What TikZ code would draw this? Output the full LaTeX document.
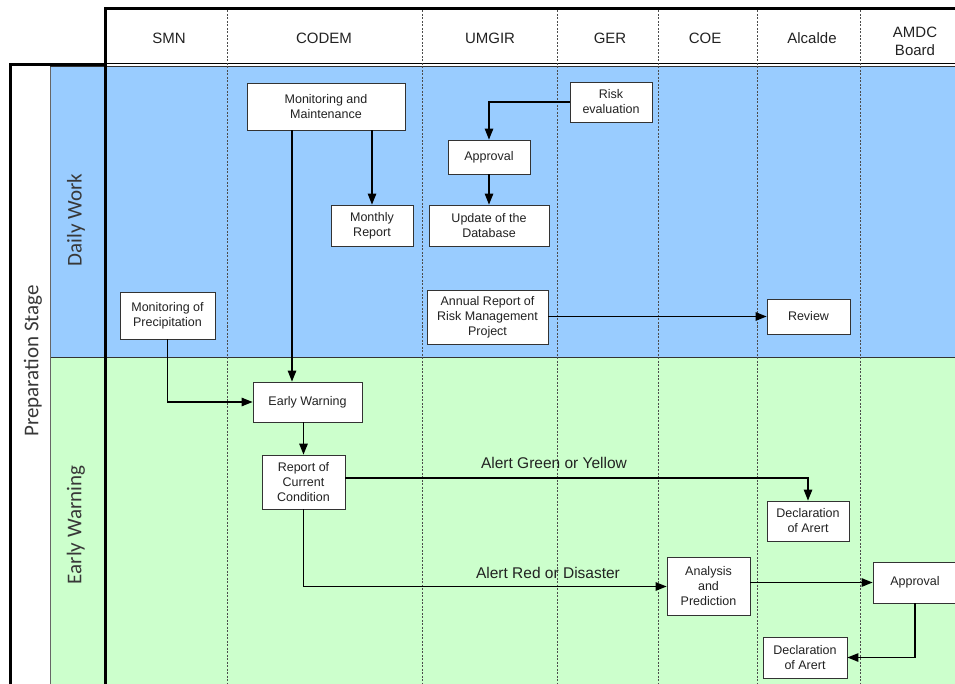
\documentclass[tikz,border=0pt]{standalone}
\usepackage{fontspec}
\setmainfont{Liberation Sans}
\newfontfamily\lanefont{Carlito}
\usetikzlibrary{arrows.meta}

\definecolor{dailyblue}{HTML}{99CCFF}
\definecolor{warngreen}{HTML}{CCFFCC}
\definecolor{inkgray}{HTML}{222222}

\tikzset{
  box/.style={draw=black!80, fill=white, line width=0.8pt, inner sep=0pt,
    align=center, text=inkgray, font=\fontsize{12.5}{15}\selectfont},
  head/.style={text=inkgray, align=center, font=\fontsize{15}{18}\selectfont},
  lanelabel/.style={text=black!78, rotate=90, font=\lanefont\fontsize{21}{24}\selectfont},
  edgelabel/.style={text=inkgray, font=\fontsize{15.5}{18}\selectfont},
  arr/.style={draw=black, line width=1.2pt, -{Triangle[length=11pt,width=8.5pt]}},
  thick frame/.style={draw=black, line width=3pt},
  divider/.style={draw=black!70, line width=0.8pt, dash pattern=on 2pt off 1.5pt},
}

\begin{document}
\begin{tikzpicture}[x=1pt,y=-1pt]
\useasboundingbox (0,0) rectangle (955,684);

% lane backgrounds
\fill[dailyblue] (50,66) rectangle (955,357);
\fill[warngreen] (50,357) rectangle (955,684);
\draw[black!80, line width=0.8pt] (50,357) -- (955,357);
\draw[black!60, line width=0.8pt] (50,66) -- (50,684);

% header and stage frame
\draw[black, line width=1pt] (105,64) -- (955,64);
\draw[black!80, line width=0.8pt] (50,66.5) -- (955,66.5);
\draw[thick frame] (105,684) -- (105,9) -- (955,9);
\draw[thick frame] (10,684) -- (10,65) -- (105,65);

% swimlane dividers
\foreach \xx in {227,422,557,658,757,860}
  \draw[divider] (\xx,10.5) -- (\xx,684);

% column headings
\node[head] (hSMN)   at (169,38) {SMN};
\node[head] (hCODEM) at (324,38) {CODEM};
\node[head] (hUMGIR) at (490,38) {UMGIR};
\node[head] (hGER)   at (610,38) {GER};
\node[head] (hCOE)   at (705,38) {COE};
\node[head] (hAlc)   at (812,38) {Alcalde};
\node[head] (hAMDC)  at (915,41) {AMDC\\Board};

% row headings
\node[lanelabel] (stage) at (33,361) {Preparation Stage};
\node[lanelabel] (daily) at (76,220) {Daily Work};
\node[lanelabel] (warn)  at (76,525) {Early Warning};

% process boxes
\node[box, minimum width=158pt, minimum height=47pt] (mm)       at (326,106.5) {Monitoring and\\Maintenance};
\node[box, minimum width=82pt,  minimum height=40pt] (risk)     at (611,102)   {Risk\\evaluation};
\node[box, minimum width=82pt,  minimum height=34pt] (appr1)    at (489,157)   {Approval};
\node[box, minimum width=82pt,  minimum height=41pt] (monthly)  at (372,225.5) {Monthly\\Report};
\node[box, minimum width=120pt, minimum height=41pt] (update)   at (489,225.5) {Update of the\\Database};
\node[box, minimum width=95pt,  minimum height=47pt] (precip)   at (167.5,315.5) {Monitoring of\\Precipitation};
\node[box, minimum width=121pt, minimum height=54pt] (annual)   at (487.5,317) {Annual Report of\\Risk Management\\Project};
\node[box, minimum width=83pt,  minimum height=35pt] (review)   at (808.5,316.5) {Review};
\node[box, minimum width=109pt, minimum height=40pt] (early)    at (307.5,402) {Early Warning};
\node[box, minimum width=83pt,  minimum height=54pt] (report)   at (303.5,482) {Report of\\Current\\Condition};
\node[box, minimum width=82pt,  minimum height=40pt] (decl1)    at (808,521)   {Declaration\\of Arert};
\node[box, minimum width=83pt,  minimum height=58pt] (analysis) at (708.5,586.5) {Analysis\\and\\Prediction};
\node[box, minimum width=84pt,  minimum height=41pt] (appr2)    at (915,582.5) {Approval};
\node[box, minimum width=84pt,  minimum height=41pt] (decl2)    at (805,657.5) {Declaration\\of Arert};

% reference points for connector routing
\coordinate (mmdrop) at (292,0);
\coordinate (greenrow) at (0,478);

% connectors
\draw[arr] (mm.south -| mmdrop) -- (early.north -| mmdrop);
\draw[arr] (mm.south -| monthly.north) -- (monthly.north);
\draw[arr] (risk.west) -| (appr1.north);
\draw[arr] (appr1.south) -- (update.north);
\draw[arr] (precip.south) |- (early.west);
\draw[arr] (annual.east |- review.west) -- (review.west);
\draw[arr] (early.south -| report.north) -- (report.north);
\draw[arr] (report.east |- greenrow) -| (decl1.north);
\draw[arr] (report.south) |- (analysis.west);
\draw[arr] (analysis.east |- appr2.west) -- (appr2.west);
\draw[arr] (appr2.south) |- (decl2.east);

% branch labels
\node[edgelabel] (lblgreen) at (554,463) {Alert Green or Yellow};
\node[edgelabel] (lblred)   at (548,573) {Alert Red or Disaster};
\end{tikzpicture}
\end{document}
